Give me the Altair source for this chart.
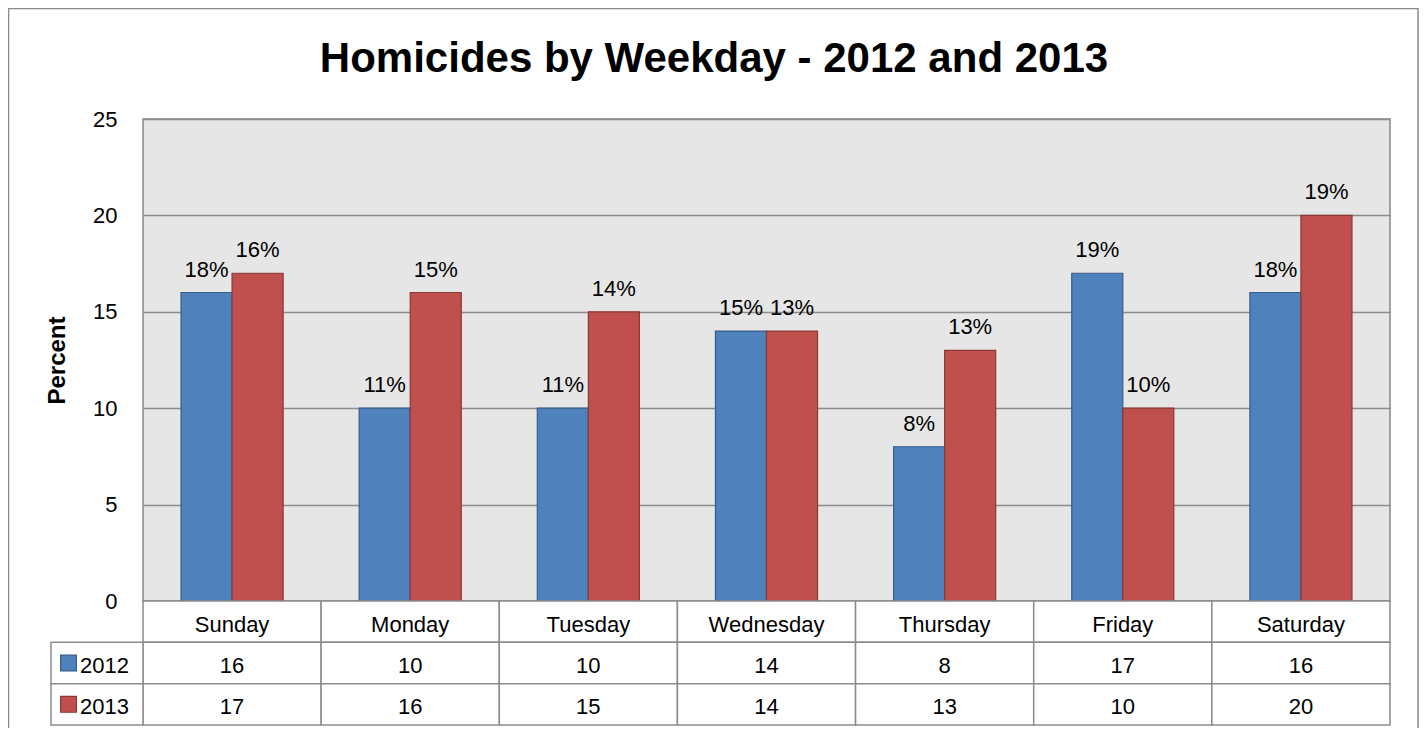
import altair as alt
import pandas as pd

FONT = "Liberation Sans"

days = ["Sunday", "Monday", "Tuesday", "Wednesday", "Thursday", "Friday", "Saturday"]
years = ["2012", "2013"]
counts_2012 = [16, 10, 10, 14, 8, 17, 16]
counts_2013 = [17, 16, 15, 14, 13, 10, 20]
pct_2012 = [18, 11, 11, 15, 8, 19, 18]
pct_2013 = [16, 15, 14, 13, 13, 10, 19]
y_ticks = [0, 5, 10, 15, 20, 25]
row_keys = ["Day", "2012", "2013"]

fill_colors = ["#4F81BD", "#C0504D"]
stroke_colors = ["#385D8A", "#8C3836"]
GRID = "#8C8C8C"

bars_df = pd.DataFrame({
    "day": days * 2,
    "year": ["2012"] * 7 + ["2013"] * 7,
    "value": counts_2012 + counts_2013,
    "pct": [f"{p}%" for p in pct_2012 + pct_2013],
})
table_df = pd.DataFrame({
    "day": days * 3,
    "row": ["Day"] * 7 + ["2012"] * 7 + ["2013"] * 7,
    "label": days + [str(v) for v in counts_2012] + [str(v) for v in counts_2013],
})
legend_df = pd.DataFrame({"row": years, "label": years})

W, H = 1247, 482
ROWS_H = 124

x_scale = alt.Scale(domain=days, paddingInner=0, paddingOuter=0)
xo_scale = alt.Scale(domain=years, paddingInner=0, paddingOuter=0.745)
y_scale = alt.Scale(domain=[0, 25], nice=False)
row_scale = alt.Scale(domain=row_keys, range=[H, H + ROWS_H], paddingInner=0, paddingOuter=0)
color_scale = alt.Scale(domain=years, range=fill_colors)
stroke_scale = alt.Scale(domain=years, range=stroke_colors)
lc_scale = alt.Scale(domain=[0, 1], range=[-92, 0])

X = alt.X("day:N", scale=x_scale, axis=None, sort=days)
XO = alt.XOffset("year:N", scale=xo_scale, sort=years)

bars = alt.Chart(bars_df).mark_bar(strokeWidth=1.2).encode(
    x=X,
    xOffset=XO,
    y=alt.Y("value:Q", scale=y_scale, axis=alt.Axis(
        values=y_ticks, title="Percent", grid=True, gridColor=GRID, gridWidth=1.5,
        ticks=False, domain=False, labelFont=FONT, labelFontSize=22, labelColor="black",
        labelPadding=26, titleFont=FONT, titleFontSize=24, titleFontWeight="bold",
        titleColor="black", titleX=-86, titleY=H / 2, titleBaseline="middle",
        titleAngle=-90)),
    color=alt.Color("year:N", scale=color_scale, legend=None),
    stroke=alt.Stroke("year:N", scale=stroke_scale, legend=None),
)

bar_labels = alt.Chart(bars_df).mark_text(
    baseline="alphabetic", dy=-16, font=FONT, fontSize=22, color="black"
).encode(
    x=X,
    xOffset=XO,
    y=alt.Y("value:Q", scale=y_scale, axis=None),
    text="pct:N",
)

cells = alt.Chart(table_df).mark_rect(fill="white", stroke=GRID, strokeWidth=1.5).encode(
    x=X,
    y=alt.Y("row:N", scale=row_scale, axis=None, sort=row_keys),
)

cell_text = alt.Chart(table_df).mark_text(
    font=FONT, fontSize=22, color="black", baseline="middle", dy=3
).encode(
    x=X,
    y=alt.Y("row:N", scale=row_scale, axis=None, sort=row_keys),
    text="label:N",
)

inner = alt.layer(bars, bar_labels, cells, cell_text).resolve_scale(y="independent")

LY = alt.Y("row:N", scale=row_scale, axis=None, sort=row_keys)

left_cells = alt.Chart(legend_df).mark_rect(fill="white", stroke=GRID, strokeWidth=1.5).encode(
    x=alt.XDatum(0, type="quantitative", scale=lc_scale, axis=None),
    x2=alt.X2Datum(1),
    y=LY,
)
swatches = alt.Chart(legend_df).mark_square(
    size=250, opacity=1, filled=True, strokeWidth=1.2, xOffset=17.5
).encode(
    x=alt.XDatum(0, type="quantitative", scale=lc_scale, axis=None),
    y=LY,
    color=alt.Color("row:N", scale=color_scale, legend=None),
    stroke=alt.Stroke("row:N", scale=stroke_scale, legend=None),
)
legend_text = alt.Chart(legend_df).mark_text(
    align="left", baseline="middle", dx=29, dy=3, font=FONT, fontSize=22, color="black"
).encode(
    x=alt.XDatum(0, type="quantitative", scale=lc_scale, axis=None),
    y=LY,
    text="label:N",
)

left_col = alt.layer(left_cells, swatches, legend_text)

# outer chart-area border (decoration only)
frame = alt.Chart(pd.DataFrame({"f": [0]})).mark_rect(
    fill=None, stroke="#8A8A8A", strokeWidth=1.5
).encode(
    x=alt.value(-134.5), x2=alt.value(W + 28), y=alt.value(-110.5), y2=alt.value(H + 300)
)

chart = alt.layer(frame, inner, left_col).resolve_scale(x="independent", y="independent").properties(
    width=W,
    height=H,
    autosize=alt.AutoSizeParams(type="none"),
    padding={"left": 135, "top": 111, "right": 29, "bottom": 127},
    title=alt.Title(
        "Homicides by Weekday - 2012 and 2013", font=FONT, fontSize=42, fontWeight="bold",
        color="black", anchor="middle", dx=-52.5, offset=35, dy=141, baseline="alphabetic",
    ),
).configure_view(fill="#E6E6E6", stroke="#868686", strokeWidth=1.5)

chart.save("out.html", embed_options={"renderer": "svg", "actions": False})
